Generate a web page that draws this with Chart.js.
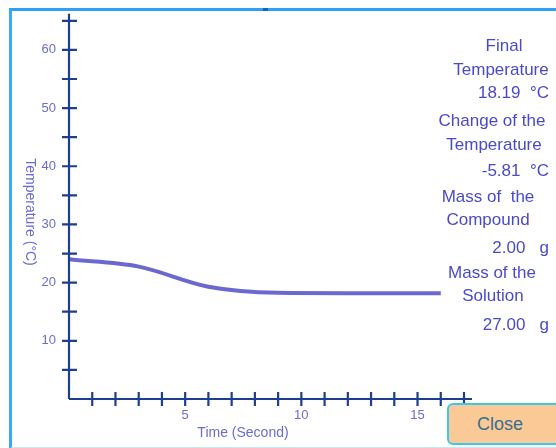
<!DOCTYPE html>
<html>
<head>
<meta charset="utf-8">
<script src="https://cdn.jsdelivr.net/npm/chart.js@4.4.0/dist/chart.umd.min.js"></script>
<style>
    body { margin: 0; width: 556px; height: 448px; overflow: hidden; background: #fff; font-family: "Liberation Sans", Arial, sans-serif; position: relative; }
    #frame { position: absolute; left: 9px; top: 8px; width: 600px; height: 436px; border-left: 3px solid #3aa8f4; border-top: 3px solid #2f9ff3; border-bottom: 2px solid #c4e7fb; }
    #topMark { position: absolute; left: 263px; top: 8px; width: 5px; height: 3px; background: #1b5fc0; }
    #wrap { position: absolute; left: 0; top: 0; width: 556px; height: 448px; }
    .info { position: absolute; color: #4a4ac9; font-size: 17px; line-height: 20px; white-space: pre; }
    .c { transform: translateX(-50%); }
    .r { transform: translateX(-100%); }
    #closeBtn { position: absolute; left: 447px; top: 403px; background: #fbc996; border: 2px solid #3fc6ee; border-radius: 6px; color: #356f8f; font-size: 18px; line-height: 38px; padding-left: 28px; box-sizing: border-box; width: 120px; height: 42px; }
</style>
</head>
<body>
<div id="frame"></div>
<div id="topMark"></div>
<div id="wrap"><canvas id="tempChart" width="556" height="448"></canvas></div>
<div id="infoPanel"></div>
<div id="closeBtn">Close</div>

<script>
// data
const times = [0, 3, 6, 9, 12, 15, 16];
const temperatures = [24.00, 22.75, 19.30, 18.25, 18.19, 18.19, 18.19];
const yLabelValues = [10, 20, 30, 40, 50, 60];
const xLabelValues = [5, 10, 15];
const infoLines = [
    ['Final', 'c', 504, 46],
    ['Temperature', 'c', 501, 70],
    ['18.19  \u00b0C', 'r', 549, 93],
    ['Change of the', 'c', 492, 121],
    ['Temperature', 'c', 494, 145],
    ['-5.81  \u00b0C', 'r', 549, 171],
    ['Mass of  the', 'c', 488, 197],
    ['Compound', 'c', 488, 220],
    ['2.00   g', 'r', 549, 248],
    ['Mass of the', 'c', 492, 273],
    ['Solution', 'c', 493, 296],
    ['27.00   g', 'r', 549, 325]
];

const axisColor = '#1d3f8f';
const labelColor = '#6b6bd6';

infoLines.forEach(function (line) {
    const div = document.createElement('div');
    div.className = 'info ' + line[1];
    div.textContent = line[0];
    div.style.left = line[2] + 'px';
    div.style.top = (line[3] - 10) + 'px';
    document.getElementById('infoPanel').appendChild(div);
});

// axis lines with ticks crossing them, plus axis titles
const axesPlugin = {
    id: 'crossAxes',
    afterDraw(chart) {
        const ctx = chart.ctx;
        const xs = chart.scales.x;
        const ys = chart.scales.y;
        const x0 = xs.getPixelForValue(0);
        const y0 = ys.getPixelForValue(0);
        ctx.save();
        ctx.strokeStyle = axisColor;
        ctx.lineWidth = 2.2;
        ctx.beginPath();
        ctx.moveTo(x0, y0);
        ctx.lineTo(xs.getPixelForValue(17) + 8, y0);
        ctx.moveTo(x0, y0);
        ctx.lineTo(x0, ys.getPixelForValue(65) - 7);
        xs.ticks.forEach(function (t) {
            if (t.value === 0) return;
            const px = xs.getPixelForValue(t.value);
            ctx.moveTo(px, y0 - 7);
            ctx.lineTo(px, y0 + 7);
        });
        ys.ticks.forEach(function (t) {
            if (t.value === 0) return;
            const py = ys.getPixelForValue(t.value);
            ctx.moveTo(x0 - 7, py);
            ctx.lineTo(x0 + 8, py);
        });
        ctx.stroke();

        ctx.fillStyle = labelColor;
        ctx.font = '14px "Liberation Sans", Arial, sans-serif';
        ctx.textAlign = 'center';
        ctx.textBaseline = 'middle';
        ctx.fillText('Time (Second)', 243, 433);
        ctx.translate(30, 212);
        ctx.rotate(Math.PI / 2);
        ctx.fillText('Temperature (\u00b0C)', 0, 0);
        ctx.restore();
    }
};

const ctx = document.getElementById('tempChart').getContext('2d');
const tempChart = new Chart(ctx, {
    type: 'line',
    data: {
        datasets: [{
            data: times.map((t, i) => ({ x: t, y: temperatures[i] })),
            borderColor: 'rgba(100, 96, 206, 0.95)',
            borderWidth: 4,
            pointRadius: 0,
            tension: 0.4,
            cubicInterpolationMode: 'monotone',
            fill: false
        }]
    },
    options: {
        responsive: false,
        animation: false,
        layout: { padding: { left: 0, top: 20, right: 92, bottom: 0 } },
        plugins: {
            legend: { display: false },
            tooltip: { enabled: false }
        },
        scales: {
            x: {
                type: 'linear',
                min: 0,
                max: 17,
                grid: { display: false, drawTicks: false },
                border: { display: false },
                ticks: {
                    stepSize: 1,
                    padding: 9,
                    color: labelColor,
                    maxRotation: 0,
                    autoSkip: false,
                    font: { family: '"Liberation Sans", Arial, sans-serif', size: 13 },
                    callback: v => xLabelValues.includes(v) ? String(v) : ''
                },
                afterFit: s => { s.height = 49; }
            },
            y: {
                min: 0,
                max: 65,
                grid: { display: false, drawTicks: false },
                border: { display: false },
                ticks: {
                    stepSize: 5,
                    padding: 13,
                    color: labelColor,
                    autoSkip: false,
                    font: { family: '"Liberation Sans", Arial, sans-serif', size: 13 },
                    callback: v => yLabelValues.includes(v) ? String(v) : ''
                },
                afterFit: s => { s.width = 69; }
            }
        }
    },
    plugins: [axesPlugin]
});
</script>
</body>
</html>
